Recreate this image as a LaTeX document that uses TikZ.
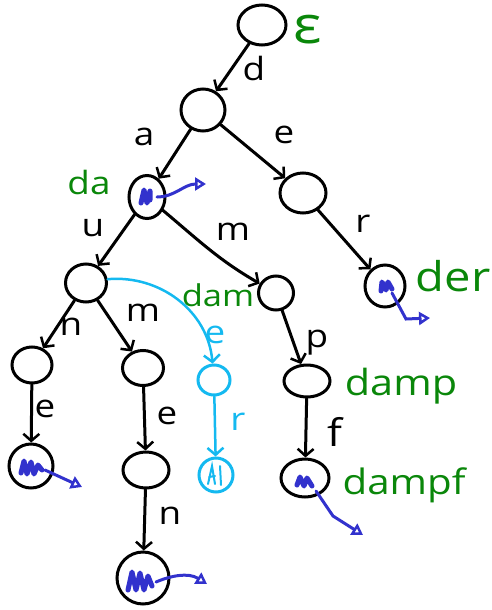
\documentclass[tikz,border=0pt]{standalone}
\usepackage{fontspec}
\setmainfont{Open Sans}[FakeStretch=1.15]
\usetikzlibrary{shapes.geometric,arrows.meta}
\definecolor{wordgreen}{RGB}{10,135,10}
\definecolor{markblue}{RGB}{50,50,205}
\definecolor{newcyan}{RGB}{20,185,240}
\begin{document}
\begin{tikzpicture}[x=1pt,y=-1pt,
  trienode/.style={draw=black,line width=3pt,ellipse,inner sep=0pt},
  newnode/.style={trienode,draw=newcyan},
  edge/.style={draw=black,line width=3pt,line cap=round,-{Straight Barb[length=7pt,width=16pt,line width=2.5pt]}},
  newedge/.style={edge,draw=newcyan},
  letter/.style={font=\fontsize{32}{32}\selectfont,inner sep=0pt},
  newletter/.style={letter,text=newcyan},
  word/.style={text=wordgreen,inner sep=0pt},
  scribble/.style={draw=markblue,line width=5pt,line cap=round,line join=round},
  value/.style={draw=markblue,line width=3pt,line cap=round,-{Triangle[open,length=11pt,width=13pt,line width=2.5pt]}}]
\useasboundingbox (0,0) rectangle (492,610);

% trie nodes
\node[trienode,minimum width=48pt,minimum height=40pt] (root) at (262,25) {};
\node[trienode,minimum width=44pt,minimum height=42pt] (d) at (203,110) {};
\node[trienode,minimum width=36pt,minimum height=43pt] (da) at (147,197) {};
\node[trienode,minimum width=46pt,minimum height=40pt] (de) at (303,193) {};
\node[trienode,minimum width=40pt,minimum height=42pt] (der) at (385,286) {};
\node[trienode,minimum width=41pt,minimum height=38pt] (dau) at (86,283) {};
\node[trienode,minimum width=35pt,minimum height=34pt] (dam) at (276,293) {};
\node[trienode,minimum width=40pt,minimum height=36pt] (daun) at (32,365) {};
\node[trienode,minimum width=41pt,minimum height=35pt] (daum) at (143,368) {};
\node[trienode,minimum width=44pt,minimum height=44pt] (daune) at (31,466) {};
\node[trienode,minimum width=46pt,minimum height=36pt] (daume) at (146,470) {};
\node[trienode,minimum width=52pt,minimum height=52pt] (daumen) at (143,578) {};
\node[trienode,minimum width=46pt,minimum height=32pt] (damp) at (307,381) {};
\node[trienode,minimum width=48pt,minimum height=38pt] (dampf) at (305,478) {};
\node[newnode,minimum width=32pt,minimum height=30pt] (daue) at (214,380) {};
\node[newnode,minimum width=34pt,minimum height=34pt] (dauer) at (216,475) {};

% edges
\draw[edge] (root) -- (d);
\draw[edge] (d) -- (da);
\draw[edge] (d) -- (de);
\draw[edge] (de) -- (der);
\draw[edge] (da) -- (dau);
\draw[edge] (da) to[out=-40,in=150] (dam);
\draw[edge] (dau) -- (daun);
\draw[edge] (dau) -- (daum);
\draw[edge] (daun) -- (daune);
\draw[edge] (daum) -- (daume);
\draw[edge] (daume) -- (daumen);
\draw[edge] (dam) -- (damp);
\draw[edge] (damp) -- (dampf);
\draw[newedge,line width=2.5pt] (dau.10) to[out=5,in=95] (daue);
\draw[newedge,line width=2.5pt] (daue) -- (dauer);

% edge letters
\node[letter] (ld) at (254,69) {d};
\node[letter] (la) at (144,137) {a};
\node[letter] (le) at (284,135) {e};
\node[letter] (lu) at (93,228) {u};
\node[letter] (lm1) at (233,232) {m};
\node[letter] (lr) at (363,224) {r};
\node[letter] (ln1) at (71,327) {n};
\node[letter] (lm2) at (143,313) {m};
\node[letter] (le2) at (45,409) {e};
\node[letter] (le3) at (167,416) {e};
\node[letter] (ln2) at (170,516) {n};
\node[letter] (lp) at (317,343) {p};
\node[letter,font=\fontsize{38}{38}\selectfont] (lf) at (335,432) {f};
\node[newletter] (lce) at (215,335) {e};
\node[newletter] (lcr) at (238,422) {r};

% stored words
\node[word,font=\fontsize{52}{52}\selectfont] (weps) at (308,30) {ε};
\node[word,font=\fontsize{32}{32}\selectfont] (wda) at (89,182) {da};
\node[word,font=\fontsize{30}{30}\selectfont] (wdam) at (218,295) {dam};
\node[word,font=\fontsize{41}{41}\selectfont] (wder) at (453,276) {der};
\node[word,font=\fontsize{36}{36}\selectfont] (wdamp) at (401,386) {damp};
\node[word,font=\fontsize{35}{35}\selectfont] (wdampf) at (404,485) {dampf};

% value marks and their pointers
\draw[scribble] (141,203) -- (144,190) -- (147,203) -- (150,191) -- (150,200);
\draw[value] (157,197) .. controls (175,197) and (184,184) .. (206,184);

\draw[scribble] (381,291) -- (382,282) -- (386,290) -- (388,282) -- (392,289);
\draw[value] (392,293) -- (406,319) -- (430,318);

\draw[scribble] (21,473) -- (24,461) -- (27,474) -- (31,462) -- (34,474) -- (38,465) -- (42,470);
\draw[value] (45,470) -- (82,487);

\draw[scribble] (128,590) -- (132,572) -- (136,590) -- (140,573) -- (144,590) -- (148,576) -- (152,586);
\draw[value] (156,582) .. controls (170,576) and (188,572) .. (207,584);

\draw[scribble] (297,485) -- (300,477) -- (304,486) -- (307,478) -- (312,486);
\draw[value] (316,491) -- (333,516) -- (363,535);

% mark in the newly inserted leaf
\draw[draw=newcyan,line width=2pt,line cap=round] (208,484) -- (212,466) -- (215,484) (209,477) -- (215,476) (220,466) -- (221,485);
\end{tikzpicture}
\end{document}
